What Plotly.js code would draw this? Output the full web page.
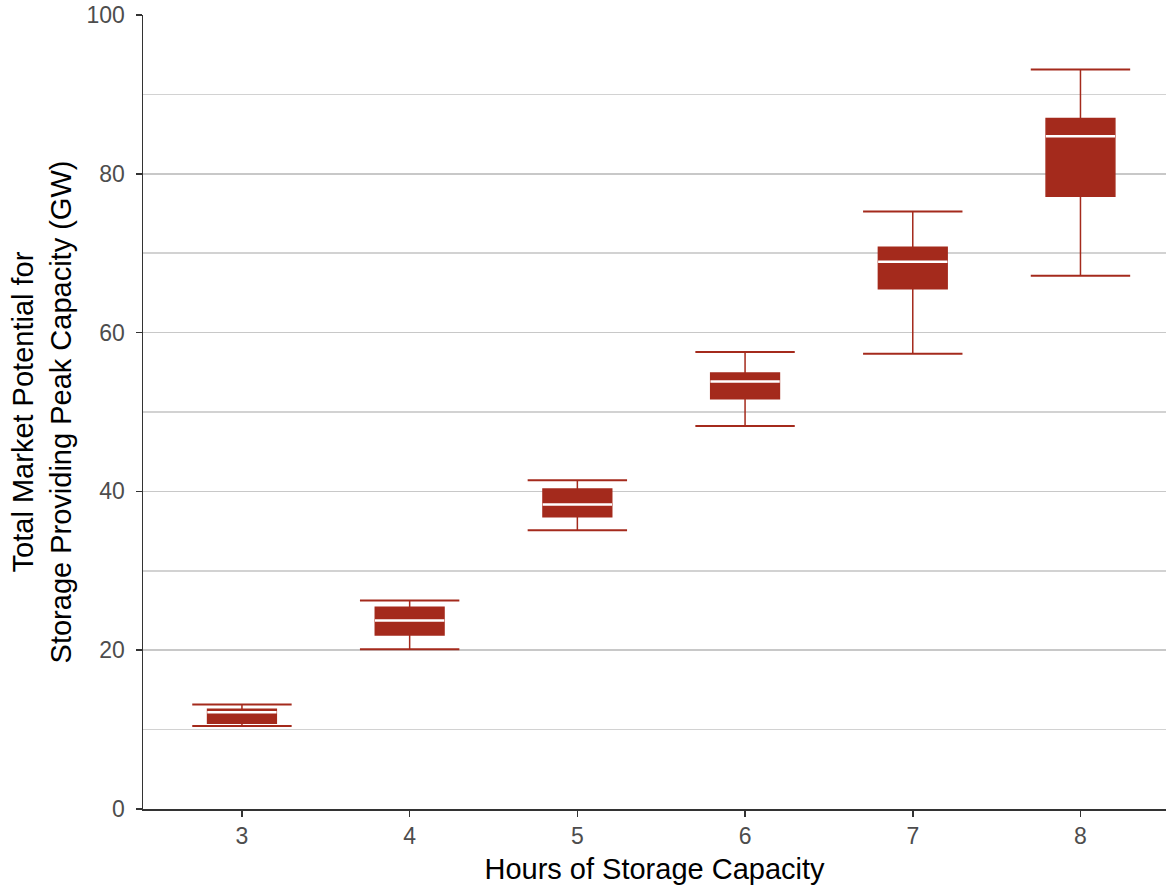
<!DOCTYPE html>
<html>
<head>
<meta charset="utf-8">
<script src="https://cdn.plot.ly/plotly-3.0.1.min.js"></script>
<style>html,body{margin:0;padding:0;background:#fff;}#chart{width:1166px;height:888px;}</style>
</head>
<body>
<div id="chart"></div>
<script>
// Hours of storage capacity (categories)
var hours = [3, 4, 5, 6, 7, 8];
// Box statistics, GW
var lowerWhisker = [10.46, 20.13, 35.12, 48.23, 57.34, 67.17];
var q1Values     = [10.80, 21.93, 36.80, 51.67, 65.53, 77.17];
var medianValues = [12.19, 23.73, 38.35, 53.85, 68.93, 84.73];
var q3Values     = [12.56, 25.40, 40.29, 54.90, 70.74, 86.96];
var upperWhisker = [13.15, 26.25, 41.42, 57.55, 75.24, 93.13];
var yTicks = [0, 20, 40, 60, 80, 100];

var red = '#A42A1C';
var font = 'Liberation Sans, Arial, sans-serif';

var boxTrace = {
  type: 'box',
  x: hours,
  q1: q1Values,
  median: medianValues,
  q3: q3Values,
  lowerfence: lowerWhisker,
  upperfence: upperWhisker,
  width: 0.41,
  whiskerwidth: 0,
  fillcolor: red,
  line: {color: red, width: 1.5},
  boxpoints: false,
  hoverinfo: 'skip',
  showlegend: false
};

var capTrace = {
  type: 'scatter',
  mode: 'markers',
  x: hours.concat(hours),
  y: upperWhisker.concat(lowerWhisker),
  marker: {symbol: 'line-ew', size: 71, color: red, line: {color: red, width: 2}},
  hoverinfo: 'skip',
  showlegend: false
};

var medianTrace = {
  type: 'scatter',
  mode: 'markers',
  x: hours,
  y: medianValues,
  marker: {symbol: 'line-ew', size: 49.5, color: '#ffffff', line: {color: '#ffffff', width: 2.5}},
  hoverinfo: 'skip',
  showlegend: false
};

var layout = {
  width: 1166,
  height: 888,
  margin: {l: 143, r: 0, t: 15, b: 79, pad: 0},
  paper_bgcolor: '#ffffff',
  plot_bgcolor: '#ffffff',
  font: {family: font},
  xaxis: {
    range: [2.41, 8.51],
    tickvals: hours,
    ticktext: hours.map(String),
    showgrid: false,
    zeroline: false,
    showline: true,
    linecolor: '#333333',
    linewidth: 1.5,
    ticks: 'outside',
    ticklen: 6,
    tickwidth: 1.5,
    tickcolor: '#333333',
    tickfont: {size: 23, color: '#4d4d4d', family: font},
    title: {text: 'Hours of Storage Capacity', font: {size: 29, color: '#000000', family: font}, standoff: 10},
    automargin: false
  },
  yaxis: {
    range: [0, 100],
    tickvals: yTicks,
    ticktext: yTicks.map(String),
    showgrid: true,
    gridcolor: '#c8c8c8',
    gridwidth: 1.5,
    minor: {dtick: 10, tick0: 0, showgrid: true, gridcolor: '#d2d2d2', gridwidth: 1.5, ticks: ''},
    zeroline: false,
    showline: true,
    linecolor: '#333333',
    linewidth: 1.5,
    ticks: 'outside',
    ticklen: 6,
    tickwidth: 1.5,
    tickcolor: '#333333',
    ticklabelstandoff: 6,
    tickfont: {size: 23, color: '#4d4d4d', family: font},
    title: {text: 'Total Market Potential for<br>Storage Providing Peak Capacity (GW)', font: {size: 29, color: '#000000', family: font}, standoff: 6},
    automargin: false
  }
};

Plotly.newPlot('chart', [boxTrace, capTrace, medianTrace], layout, {displayModeBar: false, staticPlot: true});
</script>
</body>
</html>
